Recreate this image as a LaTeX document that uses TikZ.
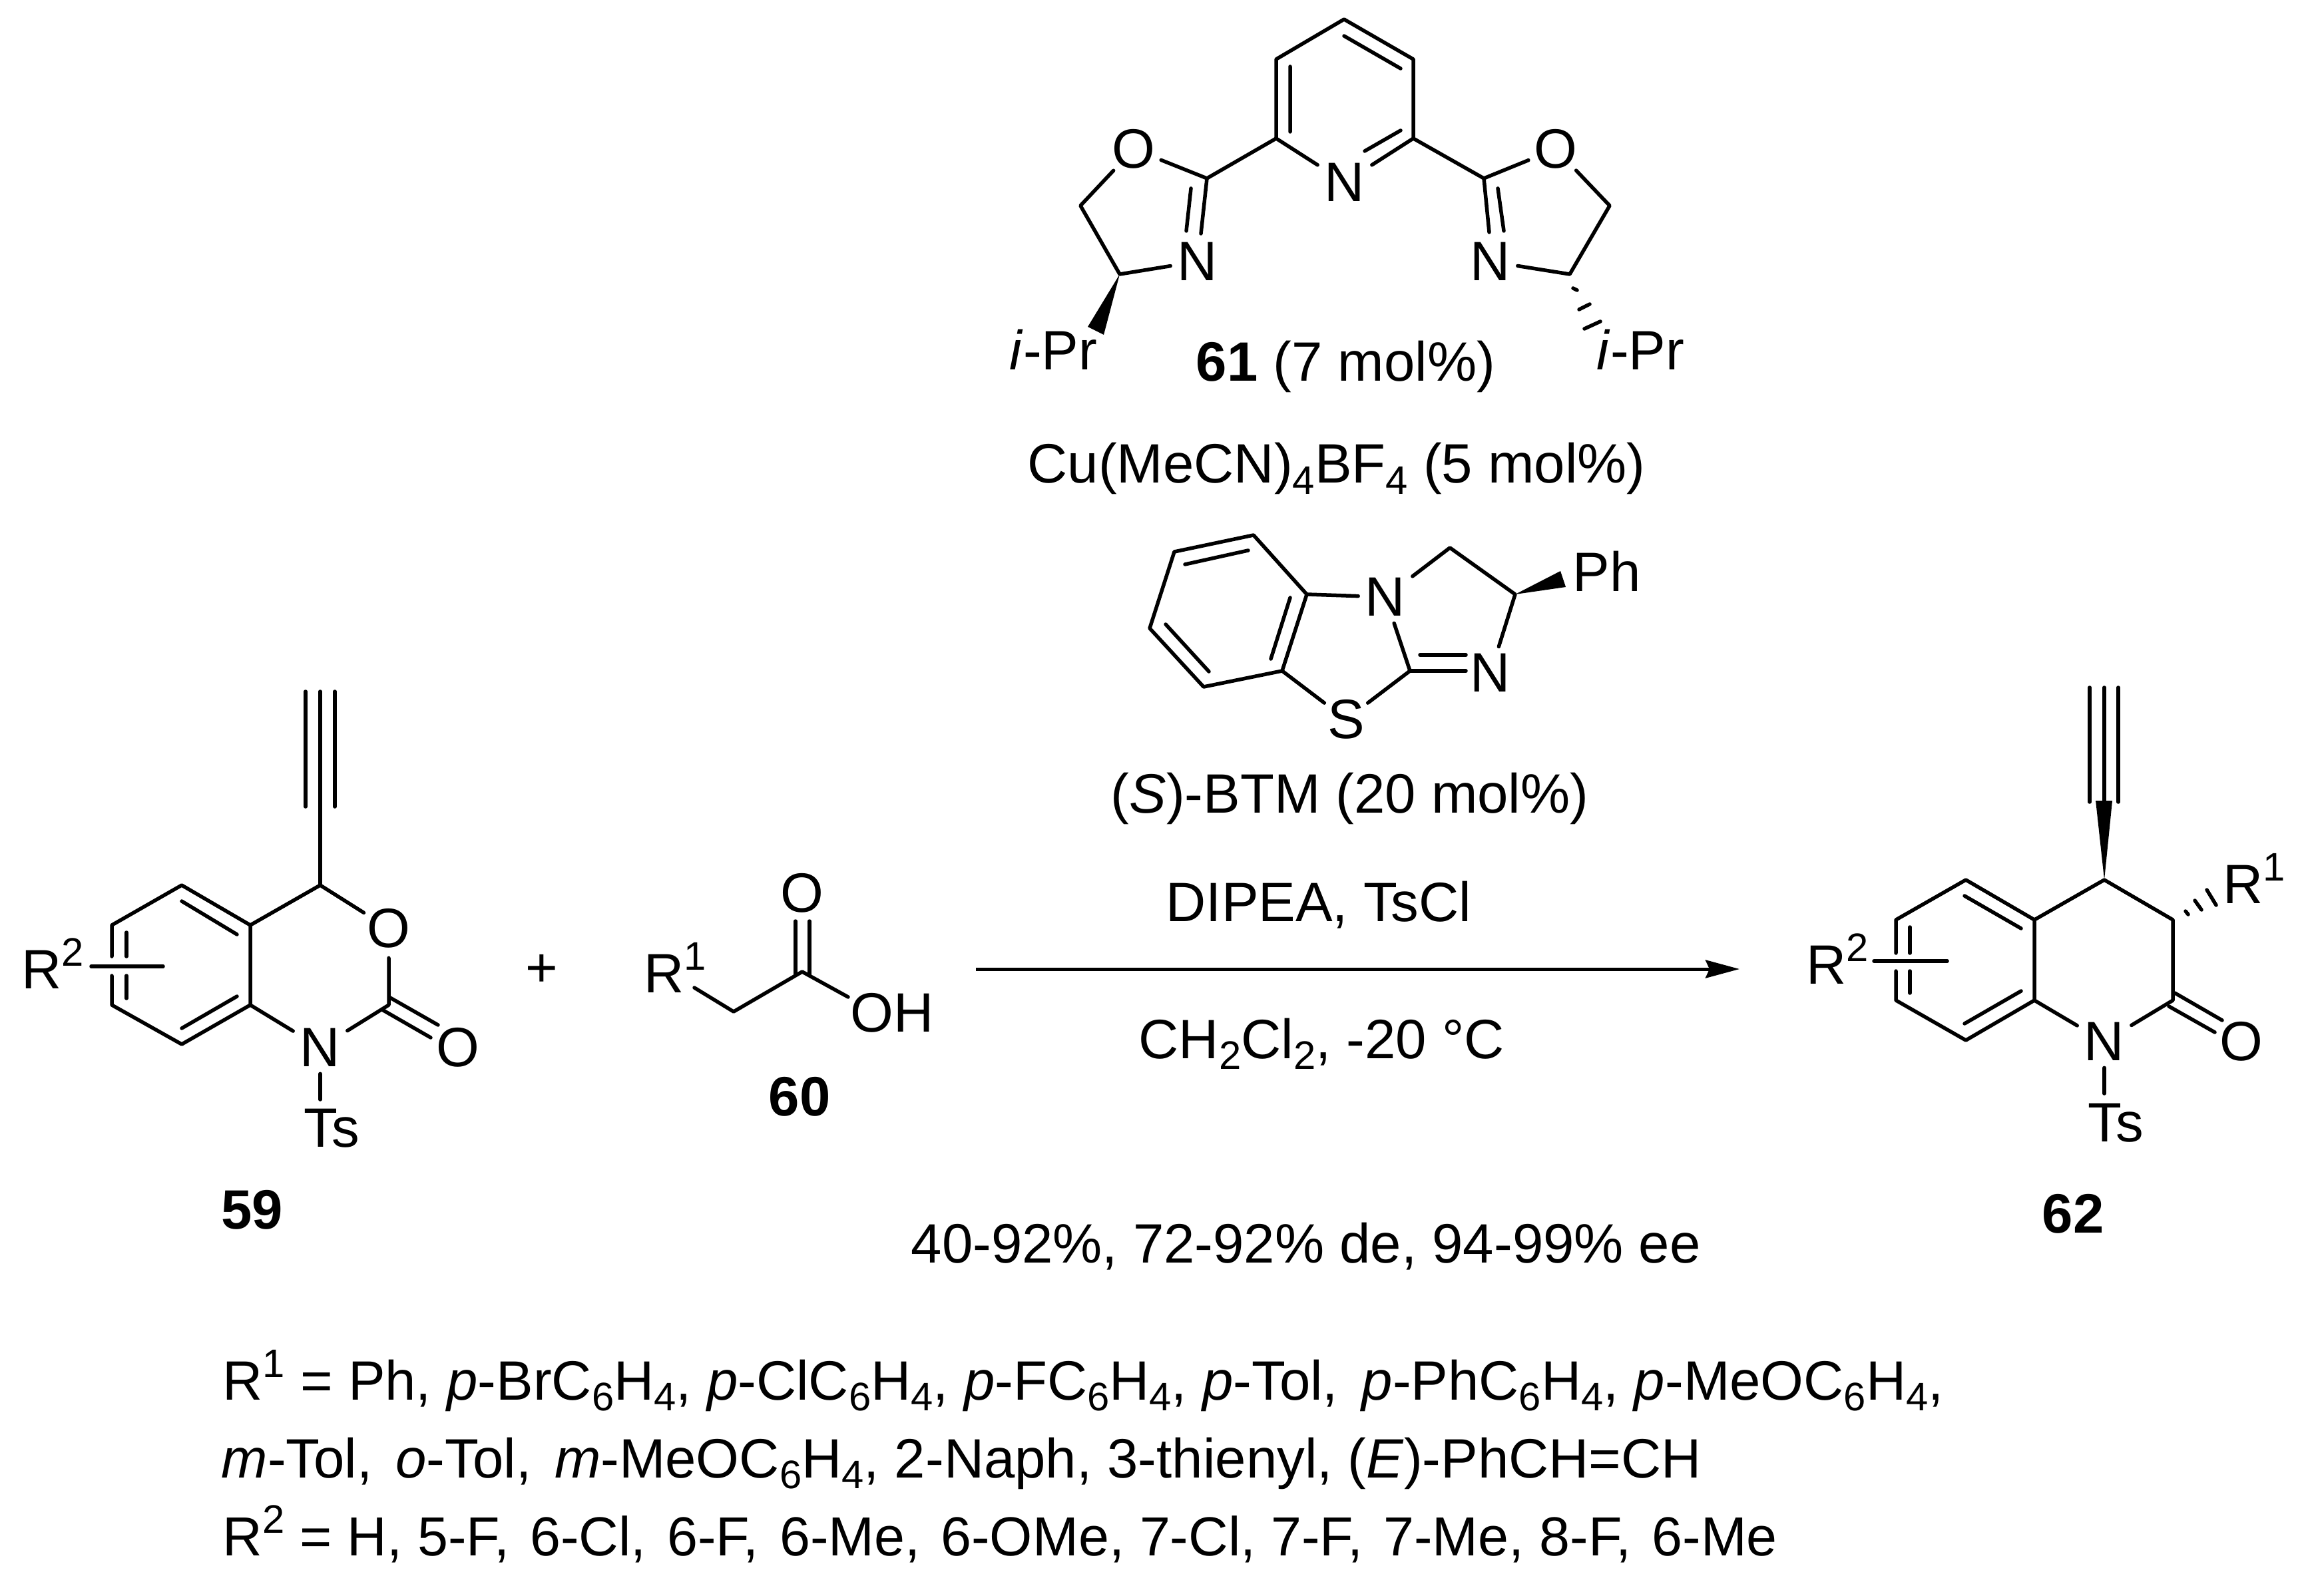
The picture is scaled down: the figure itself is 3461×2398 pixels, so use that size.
\documentclass[tikz,border=0pt]{standalone}
\usepackage{fontspec}
\setmainfont{Liberation Sans}
\usetikzlibrary{arrows.meta}
\newcommand\lo[1]{\raisebox{-4.7pt}{\fontsize{17}{20}\selectfont #1}}
\newcommand\hi[1]{\raisebox{9.5pt}{\fontsize{17}{20}\selectfont #1}}
\newcommand\xs[1]{\hspace{#1em}}
\tikzset{
  bond/.style={line width=0.055cm,line cap=round,line join=round},
  atom/.style={inner sep=0.1cm,font=\fontsize{23.7}{28}\selectfont},
  oatom/.style={circle,inner sep=0pt,font=\fontsize{23.7}{28}\selectfont},
  txt/.style={inner sep=0pt,font=\fontsize{23.7}{28}\selectfont,anchor=base west},
  ctr/.style={inner sep=0pt,font=\fontsize{23.7}{28}\selectfont},
  lab/.style={inner sep=0pt,font=\fontsize{23.7}{28}\selectfont\bfseries},
}
\begin{document}
\begin{tikzpicture}[x=0.01cm,y=-0.01cm]
\useasboundingbox (0,0) rectangle (3461,2398);
% ---------- 59
\coordinate (a1) at (376,1390); \coordinate (a2) at (376,1510);
\coordinate (a3) at (273,1330); \coordinate (a4) at (168,1390);
\coordinate (a5) at (168,1510); \coordinate (a6) at (273,1569);
\coordinate (a7) at (481,1330); \coordinate (a8) at (584,1510);
\coordinate (a4g) at (168,1437); \coordinate (a5g) at (168,1466);
\coordinate (aR1) at (137,1452); \coordinate (aR2) at (245,1452);
\coordinate (aAl) at (481,1039); \coordinate (aTs) at (481,1652);
\node[oatom] (aO) at (584,1395) {O};
\node[atom] (aN) at (481,1574) {N};
\node[txt] (aT) at (456,1723) {Ts};
\node[txt] (aR) at (32,1485) {R\hi{2}};
\draw[bond] (a4g) -- (a4) -- (a3) -- (a1) -- (a2) -- (a6) -- (a5) -- (a5g);
\draw[bond] (190,1401) -- (190,1437) (190,1466) -- (190,1500);
\draw[bond] (273,1354) -- (356,1404) (273,1545) -- (356,1497);
\draw[bond] (aR1) -- (aR2);
\draw[bond] (a1) -- (a7) -- (aO) -- (a8) -- (aN) -- (a2);
\draw[bond] (aN) -- (aTs);
\draw[bond] (a7) -- (aAl);
\draw[bond] (459,1039) -- (459,1212) (503,1039) -- (503,1212);
\draw[bond] (586,1499) -- (658,1540) (574,1517) -- (647,1559);
\node[oatom] (aO2) at (688,1574) {O};
\node[lab] (l59) at (379,1818) {59};
% plus
\node[ctr] (plus) at (814,1458) {+};
% ---------- 60
\coordinate (b1) at (1102,1520); \coordinate (b2) at (1205,1460);
\node[txt] (bR) at (967,1491) {R\hi{1}};
\node[oatom] (bO) at (1205,1342) {O};
\node[txt] (bOH) at (1277,1550) {OH};
\coordinate (bRe) at (1043,1484); \coordinate (bOe) at (1274,1498);
\draw[bond] (bRe) -- (b1) -- (b2) -- (bOe);
\draw[bond] (1195,1384) -- (1195,1464) (1216,1384) -- (1216,1464);
\node[lab] (l60) at (1201,1648) {60};
% ---------- arrow
\coordinate (ar1) at (1466,1456); \coordinate (ar2) at (2613,1456);
\draw[line width=0.05cm,-{Stealth[length=0.51cm,width=0.27cm,inset=0.06cm]}] (ar1) -- (ar2);
% ---------- 61
\coordinate (p1) at (2019,29); \coordinate (p2) at (1917,89); \coordinate (p3) at (2123,89);
\coordinate (p4) at (1917,208); \coordinate (p5) at (2123,208);
\node[atom] (pN) at (2020,274) {N};
\draw[bond] (pN) -- (p4) -- (p2) -- (p1) -- (p3) -- (p5) -- (pN);
\draw[bond] (1938,100) -- (1938,198) (2019,54) -- (2104,103) (2050,227) -- (2104,196);
\coordinate (q2) at (1813,268); \coordinate (q5) at (1623,309); \coordinate (q4) at (1682,412);
\node[oatom] (qO) at (1703,224) {O};
\node[atom] (qN) at (1799,393) {N};
\draw[bond] (p4) -- (q2) -- (qO) -- (q5) -- (q4) -- (qN) (q2) -- (1804,351);
\draw[bond] (1789,283) -- (1782,347);
\fill (q4) -- (1634,491) -- (1658,503) -- cycle;
\node[txt] (qP) at (1516,556) {\textit{i}-Pr};
\coordinate (r2) at (2229,268); \coordinate (r5) at (2418,309); \coordinate (r4) at (2358,412);
\node[oatom] (rO) at (2337,224) {O};
\node[atom] (rN) at (2239,393) {N};
\draw[bond] (p5) -- (r2) -- (rO) -- (r5) -- (r4) -- (rN) (r2) -- (2237,349);
\draw[bond] (2250,283) -- (2259,347);
\draw[bond] (2363,433) -- (2369,436) (2372,465) -- (2388,457) (2380,494) -- (2404,483);
\node[txt] (rP) at (2398,556) {\textit{i}-Pr};
\node[txt] (t61) at (1796,573) {\textbf{61} (7 mol\%)};
\node[txt] (tCu) at (1543,726) {Cu(MeCN)\lo{4}BF\lo{4} (5 mol\%)};
% ---------- BTM
\coordinate (c1) at (1883,804); \coordinate (c2) at (1764,829); \coordinate (c3) at (1727,944);
\coordinate (c4) at (1808,1032); \coordinate (c5) at (1926,1008); \coordinate (c6) at (1963,893);
\coordinate (c7) at (2178,823); \coordinate (c8) at (2276,893); \coordinate (c9) at (2118,1008);
\node[atom] (cN) at (2081,897) {N};
\node[atom] (cN2) at (2239,1011) {N};
\node[oatom] (cS) at (2022,1081) {S};
\node[txt] (cP) at (2362,889) {Ph};
\draw[bond] (c6) -- (c1) -- (c2) -- (c3) -- (c4) -- (c5) -- (c6);
\draw[bond] (1780,848) -- (1875,827) (1751,938) -- (1816,1009) (1909,990) -- (1938,898);
\draw[bond] (c6) -- (cN) -- (c7) -- (c8) -- (cN2);
\draw[bond] (cN) -- (c9) -- (cS) -- (c5);
\draw[bond] (c9) -- (2202,1008) (2133,984) -- (2202,984);
\fill (c8) -- (2344,858) -- (2352,882) -- cycle;
\node[txt] (tBT) at (1668,1221) {(\textit{S})-BTM (20 mol\%)};
\node[txt] (tDI) at (1751,1384) {DIPEA, TsCl};
\node[txt] (tCH) at (1710,1590) {CH\lo{2}Cl\lo{2}, -20 °C};
\node[txt] (tYd) at (1368,1897) {40-92\%, 72-92\% de, 94-99\% ee};
% ---------- 62
\coordinate (d1) at (3056,1382); \coordinate (d2) at (3056,1503);
\coordinate (d3) at (2953,1322); \coordinate (d4) at (2848,1382);
\coordinate (d5) at (2848,1503); \coordinate (d6) at (2953,1563);
\coordinate (d7) at (3161,1322); \coordinate (d8) at (3264,1382); \coordinate (d9) at (3264,1503);
\coordinate (d4g) at (2848,1432); \coordinate (d5g) at (2848,1459);
\coordinate (dR1) at (2815,1444); \coordinate (dR2) at (2925,1444);
\coordinate (dAl) at (3161,1033); \coordinate (dTs) at (3161,1643);
\node[atom] (dN) at (3161,1565) {N};
\node[oatom] (dO) at (3367,1565) {O};
\node[txt] (dT) at (3136,1715) {Ts};
\node[txt] (dR) at (2713,1478) {R\hi{2}};
\node[txt] (dRa) at (3339,1357) {R\hi{1}};
\draw[bond] (d4g) -- (d4) -- (d3) -- (d1) -- (d2) -- (d6) -- (d5) -- (d5g);
\draw[bond] (2869,1393) -- (2869,1432) (2869,1459) -- (2869,1492);
\draw[bond] (2951,1346) -- (3036,1395) (2951,1538) -- (3036,1489);
\draw[bond] (dR1) -- (dR2);
\draw[bond] (d1) -- (d7) -- (d8) -- (d9) -- (dN) -- (d2);
\draw[bond] (dN) -- (dTs);
\draw[bond] (dAl) -- (3161,1210);
\draw[bond] (3139,1033) -- (3139,1205) (3182,1033) -- (3182,1205);
\fill (d7) -- (3148,1203) -- (3173,1203) -- cycle;
\draw[bond] (3267,1492) -- (3338,1533) (3258,1512) -- (3327,1551);
\draw[bond] (3283,1369) -- (3287,1374) (3297,1353) -- (3307,1367) (3315,1337) -- (3329,1360);
\node[lab] (l62) at (3114,1824) {62};
% ---------- R lines
\node[txt] (t1) at (334,2103) {R\hi{1} = Ph, \textit{p}-BrC\lo{6}H\lo{4}, \textit{p}-ClC\lo{6}H\lo{4}, \textit{p}-FC\lo{6}H\lo{4}, \textit{p}-Tol,\xs{.15} \textit{p}-PhC\lo{6}H\lo{4}, \textit{p}-MeOC\lo{6}H\lo{4},};
\node[txt] (t2) at (332,2220) {\textit{m}-Tol,\xs{.14} \textit{o}-Tol,\xs{.14} \textit{m}-MeOC\lo{6}H\lo{4}, 2-Naph, 3-thienyl, (\textit{E})-PhCH=CH};
\node[txt,font=\fontsize{23.5}{28}\selectfont] (t3) at (334,2337) {R\hi{2} = H, 5-F,\xs{.1} 6-Cl,\xs{.1} 6-F,\xs{.1} 6-Me,\xs{.1} 6-OMe, 7-Cl, 7-F,\xs{.1} 7-Me, 8-F,\xs{.1} 6-Me};
\end{tikzpicture}
\end{document}
